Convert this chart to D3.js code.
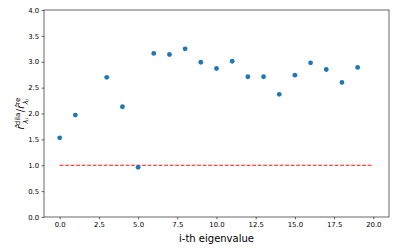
<!DOCTYPE html>
<html>
<head>
<meta charset="utf-8">
<script src="https://cdn.jsdelivr.net/npm/d3@7"></script>
<style>
  body { margin: 0; background: #fff; }
  svg { display: block; }
</style>
</head>
<body>
<div id="chart"></div>
<script>
// eigenvalue index and ratio (index 2 is absent)
const idx = [0, 1, 3, 4, 5, 6, 7, 8, 9, 10, 11, 12, 13, 14, 15, 16, 17, 18, 19];
const ratio = [1.53, 1.97, 2.70, 2.13, 0.96, 3.16, 3.14, 3.25, 2.99, 2.87, 3.01, 2.71, 2.71, 2.37, 2.74, 2.98, 2.85, 2.60, 2.89];
const refLine = [[0, 1.0], [20, 1.0]];
const xTicks = [0, 2.5, 5, 7.5, 10, 12.5, 15, 17.5, 20];
const yTicks = [0, 0.5, 1, 1.5, 2, 2.5, 3, 3.5, 4];

const W = 400, H = 250;
const margin = { top: 10, right: 11, bottom: 33, left: 44 };
const width = W - margin.left - margin.right,
      height = H - margin.top - margin.bottom;

const svg = d3.select('#chart').append('svg')
    .attr('width', W)
    .attr('height', H);

const g = svg.append('g')
    .attr('transform', `translate(${margin.left},${margin.top})`);

const x = d3.scaleLinear().domain([-1, 21]).range([0, width]);
const y = d3.scaleLinear().domain([0, 4]).range([height, 0]);

const xAxis = g.append('g')
    .attr('transform', `translate(0,${height})`)
    .call(d3.axisBottom(x).tickValues(xTicks).tickFormat(d3.format('.1f')).tickSize(2.4).tickPadding(2.5));
const yAxis = g.append('g')
    .call(d3.axisLeft(y).tickValues(yTicks).tickFormat(d3.format('.1f')).tickSize(2.4).tickPadding(2.5));

[xAxis, yAxis].forEach(a => {
    a.select('.domain').remove();
    a.selectAll('line').attr('stroke', '#000').attr('stroke-width', 0.6);
    a.selectAll('text').style('font', '6.9px "DejaVu Sans"').attr('fill', '#000');
});

// frame
g.append('rect')
    .attr('x', 0).attr('y', 0)
    .attr('width', width).attr('height', height)
    .attr('fill', 'none')
    .attr('stroke', '#000')
    .attr('stroke-width', 0.6);

const line = d3.line().x(d => x(d[0])).y(d => y(d[1]));
g.append('path')
    .datum(refLine)
    .attr('d', line)
    .attr('fill', 'none')
    .attr('stroke', '#e8141a')
    .attr('stroke-width', 1)
    .attr('stroke-dasharray', '3.8,1.7');

g.selectAll('circle')
    .data(idx)
    .enter().append('circle')
    .attr('cx', d => x(d))
    .attr('cy', (d, i) => y(ratio[i]))
    .attr('r', 2.4)
    .attr('fill', '#1f77b4');

// x label
svg.append('text')
    .attr('x', margin.left + width / 2)
    .attr('y', H - 8)
    .attr('text-anchor', 'middle')
    .style('font', '10px "DejaVu Sans"')
    .text('i-th eigenvalue');

// y label
const yl = svg.append('text')
    .attr('transform', `translate(24,${margin.top + height / 2}) rotate(-90)`)
    .attr('text-anchor', 'middle')
    .style('font', '10px "DejaVu Sans"');
yl.append('tspan').style('font-style', 'italic').text('r\u0302');
yl.append('tspan').attr('dy', -4).style('font-size', '7px').text('dila');
yl.append('tspan').attr('dx', -11).attr('dy', 7.5).style('font-size', '7px').style('font-style', 'italic').text('λ');
yl.append('tspan').attr('dy', 1.5).style('font-size', '5px').style('font-style', 'italic').text('i');
yl.append('tspan').attr('dx', 6).attr('dy', -5).text('/');
yl.append('tspan').style('font-style', 'italic').text('r\u0302');
yl.append('tspan').attr('dy', -4).style('font-size', '7px').text('re');
yl.append('tspan').attr('dx', -7).attr('dy', 7.5).style('font-size', '7px').style('font-style', 'italic').text('λ');
yl.append('tspan').attr('dy', 1.5).style('font-size', '5px').style('font-style', 'italic').text('i');
</script>
</body>
</html>
